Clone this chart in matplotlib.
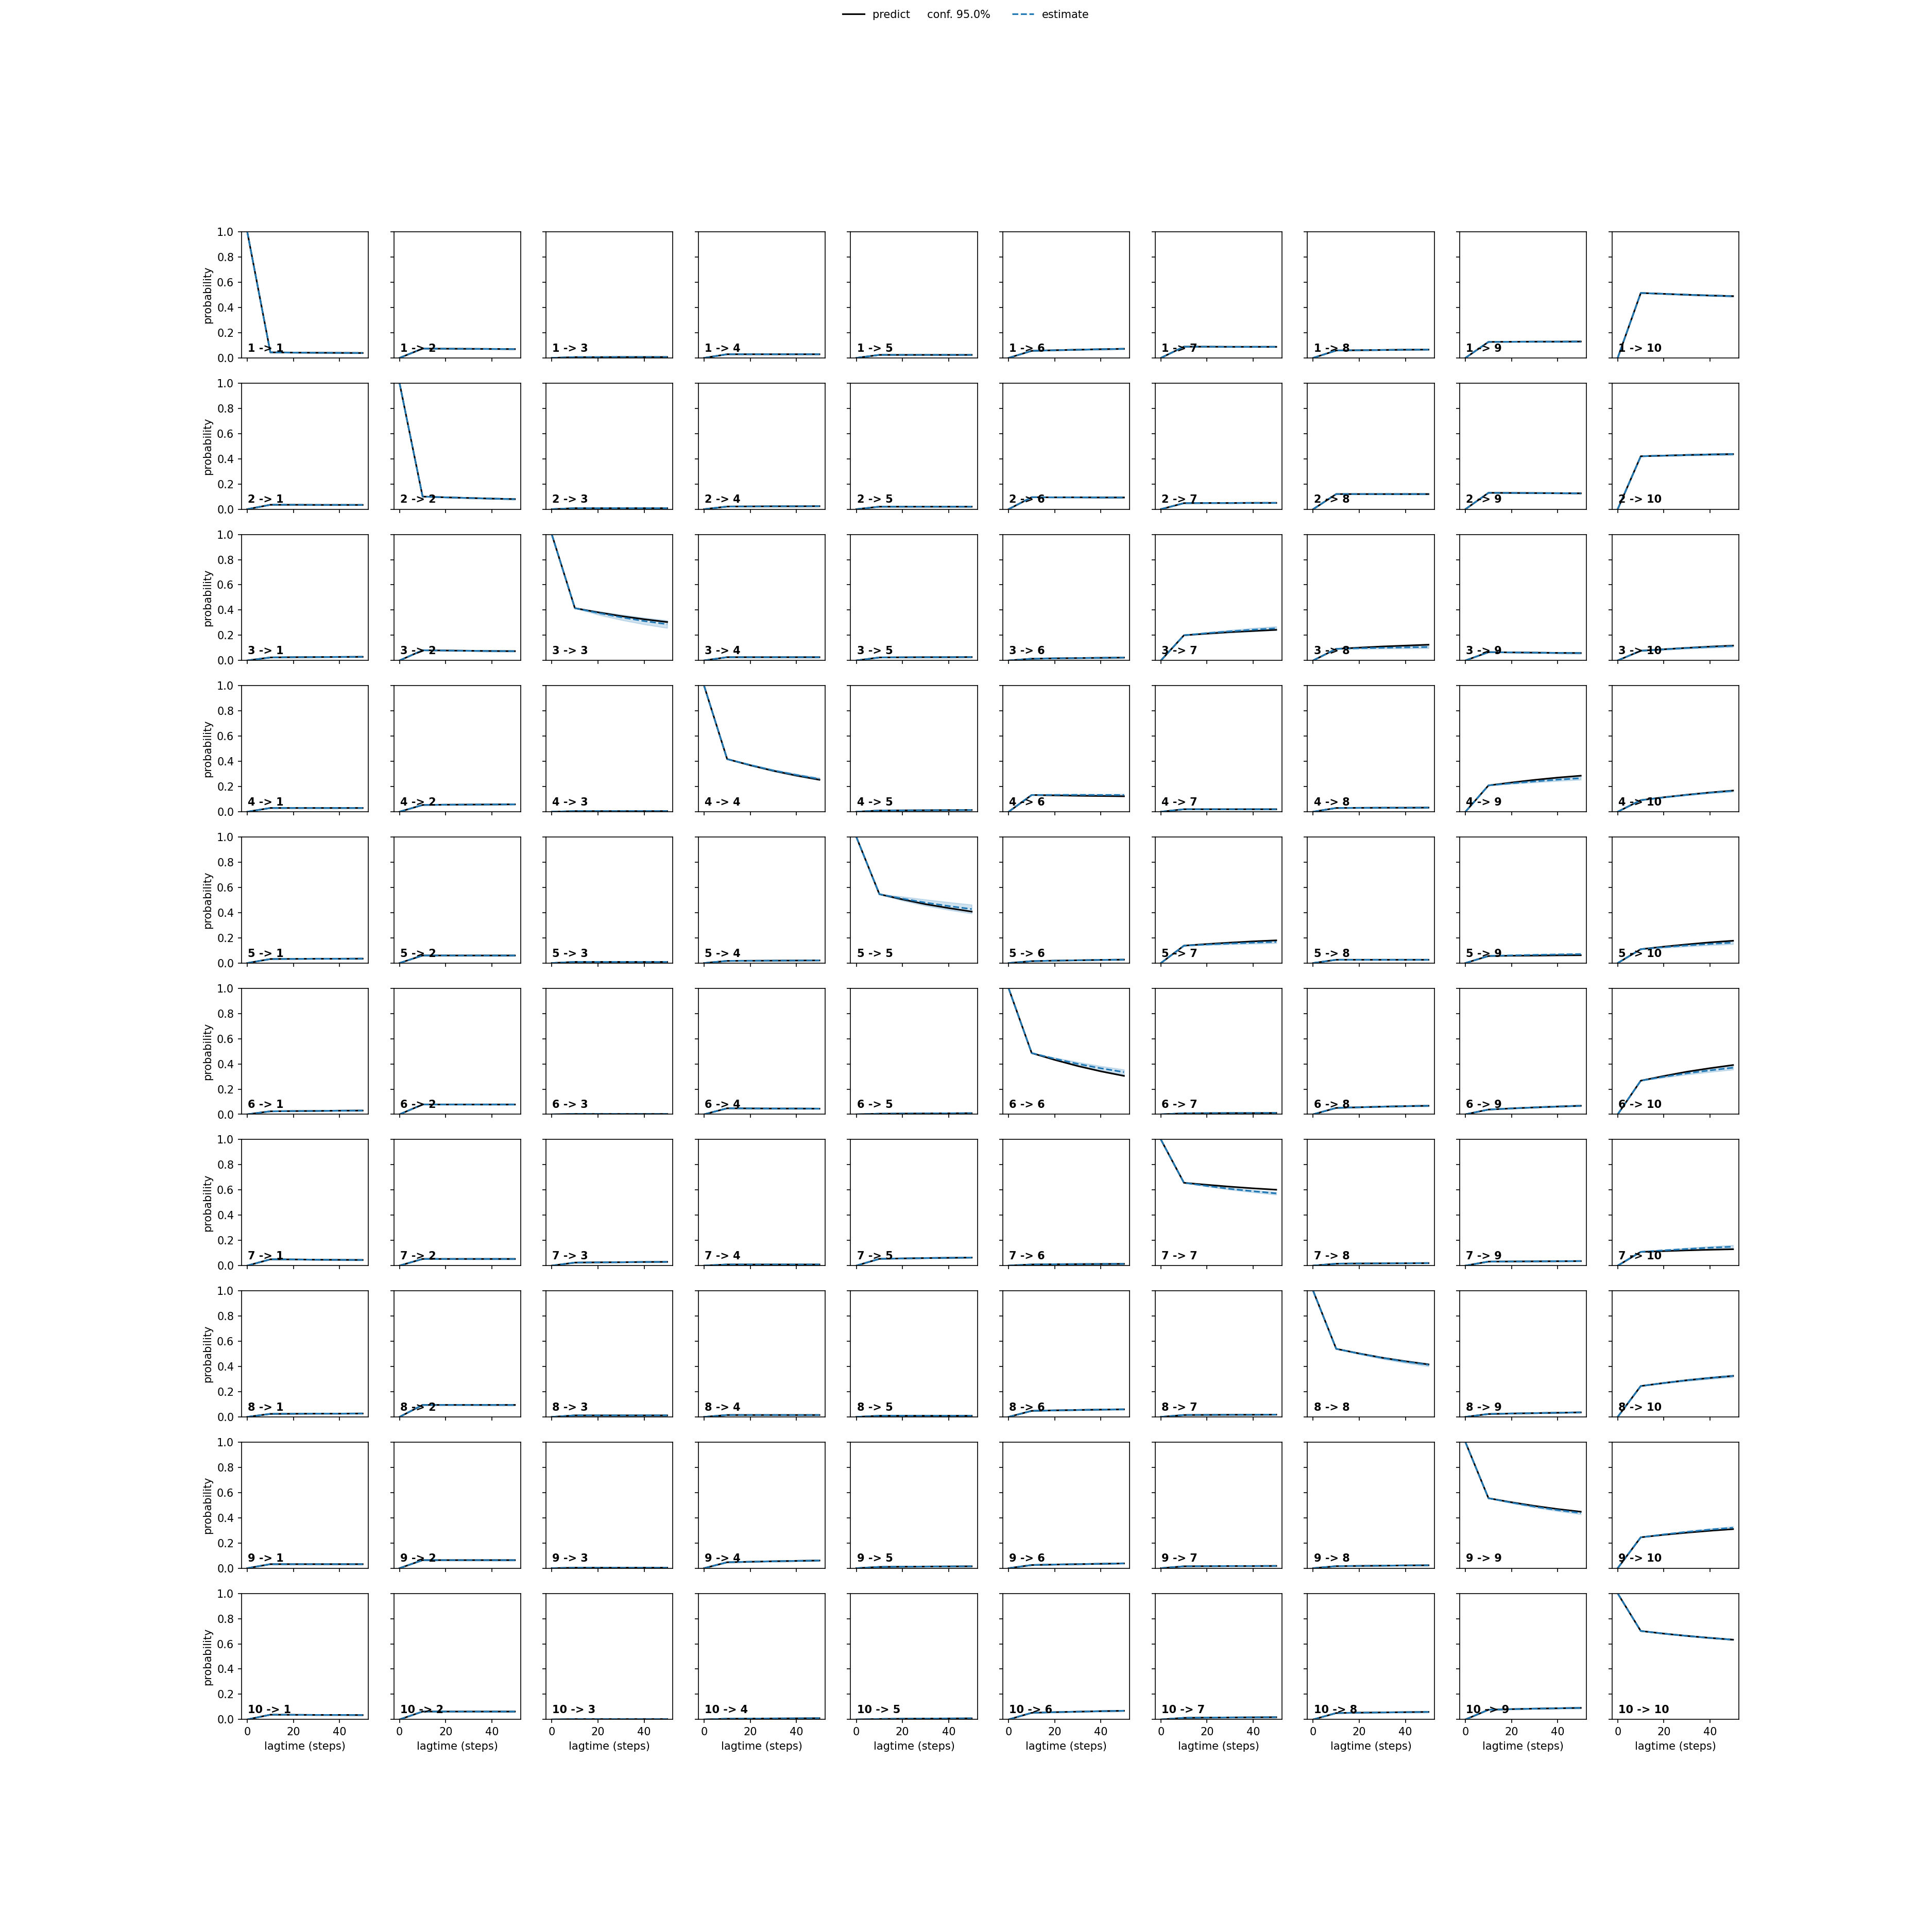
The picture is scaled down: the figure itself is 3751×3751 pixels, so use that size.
import matplotlib
matplotlib.use("Agg")
import matplotlib.pyplot as plt
import numpy as np

# lag times of the CK test (steps)
lagtimes = [0, 10, 20, 30, 40, 50]
n_states = 10

# transition probabilities, one 10x10 matrix per lag
# lag 0 is the identity, lag 10 is shared by prediction and estimate
lag0 = np.eye(n_states)

lag10 = [
    [0.044, 0.074, 0.006, 0.029, 0.024, 0.056, 0.089, 0.059, 0.127, 0.515],
    [0.035, 0.100, 0.008, 0.021, 0.020, 0.095, 0.048, 0.120, 0.130, 0.420],
    [0.024, 0.081, 0.415, 0.026, 0.024, 0.014, 0.200, 0.092, 0.066, 0.077],
    [0.030, 0.054, 0.005, 0.418, 0.010, 0.133, 0.020, 0.030, 0.209, 0.092],
    [0.032, 0.060, 0.009, 0.017, 0.546, 0.015, 0.138, 0.026, 0.056, 0.110],
    [0.024, 0.078, 0.003, 0.048, 0.005, 0.486, 0.008, 0.051, 0.038, 0.267],
    [0.050, 0.053, 0.024, 0.009, 0.054, 0.009, 0.657, 0.015, 0.032, 0.109],
    [0.024, 0.095, 0.012, 0.015, 0.009, 0.048, 0.015, 0.540, 0.023, 0.245],
    [0.032, 0.064, 0.004, 0.047, 0.010, 0.025, 0.015, 0.016, 0.555, 0.245],
    [0.038, 0.063, 0.003, 0.006, 0.004, 0.053, 0.013, 0.051, 0.077, 0.702],
]

predict20 = [
    [0.042, 0.073, 0.006, 0.029, 0.024, 0.061, 0.089, 0.061, 0.128, 0.508],
    [0.035, 0.094, 0.008, 0.022, 0.020, 0.094, 0.049, 0.120, 0.129, 0.425],
    [0.026, 0.079, 0.382, 0.026, 0.025, 0.017, 0.213, 0.102, 0.064, 0.089],
    [0.030, 0.056, 0.005, 0.369, 0.011, 0.130, 0.020, 0.031, 0.232, 0.115],
    [0.033, 0.060, 0.009, 0.018, 0.505, 0.019, 0.151, 0.026, 0.058, 0.130],
    [0.026, 0.078, 0.003, 0.047, 0.006, 0.432, 0.009, 0.056, 0.047, 0.304],
    [0.049, 0.053, 0.026, 0.009, 0.057, 0.011, 0.641, 0.017, 0.033, 0.115],
    [0.025, 0.095, 0.012, 0.015, 0.009, 0.052, 0.016, 0.503, 0.027, 0.269],
    [0.032, 0.064, 0.004, 0.051, 0.012, 0.029, 0.016, 0.018, 0.523, 0.265],
    [0.037, 0.063, 0.003, 0.007, 0.006, 0.058, 0.015, 0.054, 0.082, 0.681],
]

predict30 = [
    [0.041, 0.072, 0.007, 0.029, 0.024, 0.065, 0.088, 0.063, 0.129, 0.501],
    [0.034, 0.089, 0.008, 0.023, 0.020, 0.094, 0.049, 0.120, 0.128, 0.430],
    [0.027, 0.077, 0.352, 0.026, 0.026, 0.019, 0.225, 0.111, 0.062, 0.100],
    [0.030, 0.057, 0.005, 0.325, 0.012, 0.127, 0.020, 0.032, 0.253, 0.135],
    [0.034, 0.060, 0.009, 0.019, 0.467, 0.022, 0.162, 0.026, 0.059, 0.148],
    [0.027, 0.078, 0.003, 0.046, 0.007, 0.383, 0.010, 0.061, 0.055, 0.338],
    [0.047, 0.053, 0.027, 0.009, 0.060, 0.012, 0.626, 0.018, 0.034, 0.121],
    [0.026, 0.095, 0.012, 0.015, 0.009, 0.055, 0.017, 0.469, 0.030, 0.291],
    [0.032, 0.064, 0.004, 0.055, 0.013, 0.032, 0.017, 0.020, 0.494, 0.282],
    [0.036, 0.063, 0.003, 0.008, 0.007, 0.062, 0.016, 0.056, 0.086, 0.663],
]

predict40 = [
    [0.040, 0.071, 0.007, 0.029, 0.024, 0.069, 0.088, 0.065, 0.129, 0.495],
    [0.034, 0.084, 0.008, 0.023, 0.020, 0.093, 0.050, 0.120, 0.127, 0.434],
    [0.028, 0.075, 0.327, 0.026, 0.026, 0.021, 0.234, 0.118, 0.060, 0.110],
    [0.030, 0.058, 0.005, 0.287, 0.013, 0.125, 0.020, 0.032, 0.271, 0.153],
    [0.034, 0.060, 0.009, 0.020, 0.436, 0.025, 0.172, 0.026, 0.061, 0.164],
    [0.029, 0.078, 0.003, 0.046, 0.008, 0.341, 0.010, 0.065, 0.062, 0.366],
    [0.046, 0.053, 0.029, 0.009, 0.062, 0.013, 0.613, 0.019, 0.035, 0.126],
    [0.026, 0.095, 0.012, 0.015, 0.009, 0.058, 0.017, 0.441, 0.033, 0.309],
    [0.032, 0.064, 0.004, 0.058, 0.014, 0.035, 0.017, 0.022, 0.469, 0.297],
    [0.036, 0.063, 0.003, 0.009, 0.008, 0.066, 0.017, 0.058, 0.089, 0.647],
]

predict50 = [
    [0.039, 0.070, 0.007, 0.029, 0.024, 0.072, 0.088, 0.066, 0.130, 0.490],
    [0.034, 0.080, 0.008, 0.024, 0.020, 0.093, 0.050, 0.120, 0.126, 0.437],
    [0.029, 0.074, 0.305, 0.026, 0.027, 0.023, 0.243, 0.125, 0.059, 0.118],
    [0.030, 0.059, 0.005, 0.254, 0.014, 0.123, 0.020, 0.033, 0.286, 0.168],
    [0.035, 0.060, 0.009, 0.021, 0.408, 0.027, 0.180, 0.026, 0.062, 0.177],
    [0.030, 0.078, 0.003, 0.045, 0.009, 0.305, 0.011, 0.068, 0.068, 0.391],
    [0.045, 0.053, 0.030, 0.009, 0.064, 0.014, 0.602, 0.020, 0.036, 0.130],
    [0.027, 0.095, 0.012, 0.015, 0.009, 0.060, 0.018, 0.416, 0.036, 0.325],
    [0.032, 0.064, 0.004, 0.061, 0.015, 0.038, 0.018, 0.023, 0.448, 0.310],
    [0.035, 0.063, 0.003, 0.010, 0.009, 0.069, 0.018, 0.060, 0.092, 0.633],
]

estimate20 = [
    [0.042, 0.073, 0.006, 0.029, 0.024, 0.061, 0.089, 0.061, 0.128, 0.508],
    [0.035, 0.094, 0.008, 0.022, 0.020, 0.094, 0.049, 0.120, 0.129, 0.425],
    [0.026, 0.079, 0.377, 0.026, 0.025, 0.017, 0.217, 0.097, 0.064, 0.088],
    [0.030, 0.056, 0.005, 0.371, 0.011, 0.134, 0.020, 0.031, 0.226, 0.114],
    [0.033, 0.060, 0.009, 0.018, 0.511, 0.019, 0.147, 0.026, 0.061, 0.126],
    [0.026, 0.078, 0.003, 0.047, 0.006, 0.441, 0.009, 0.056, 0.047, 0.298],
    [0.049, 0.053, 0.026, 0.009, 0.057, 0.011, 0.632, 0.017, 0.033, 0.121],
    [0.025, 0.095, 0.012, 0.015, 0.009, 0.052, 0.016, 0.502, 0.027, 0.269],
    [0.032, 0.064, 0.004, 0.051, 0.012, 0.029, 0.016, 0.018, 0.520, 0.268],
    [0.037, 0.063, 0.003, 0.007, 0.006, 0.058, 0.015, 0.054, 0.082, 0.681],
]

estimate30 = [
    [0.041, 0.072, 0.007, 0.029, 0.024, 0.065, 0.088, 0.063, 0.129, 0.501],
    [0.034, 0.089, 0.008, 0.023, 0.020, 0.094, 0.049, 0.120, 0.128, 0.430],
    [0.027, 0.077, 0.343, 0.026, 0.026, 0.019, 0.231, 0.101, 0.062, 0.099],
    [0.030, 0.057, 0.005, 0.328, 0.012, 0.134, 0.020, 0.032, 0.241, 0.134],
    [0.034, 0.060, 0.009, 0.019, 0.479, 0.022, 0.155, 0.026, 0.065, 0.140],
    [0.027, 0.078, 0.003, 0.046, 0.007, 0.400, 0.010, 0.061, 0.055, 0.326],
    [0.047, 0.053, 0.027, 0.009, 0.060, 0.012, 0.609, 0.018, 0.034, 0.132],
    [0.026, 0.095, 0.012, 0.015, 0.009, 0.055, 0.017, 0.468, 0.030, 0.291],
    [0.032, 0.064, 0.004, 0.055, 0.013, 0.032, 0.017, 0.020, 0.488, 0.288],
    [0.036, 0.063, 0.003, 0.008, 0.007, 0.062, 0.016, 0.056, 0.086, 0.663],
]

estimate40 = [
    [0.040, 0.071, 0.007, 0.029, 0.024, 0.069, 0.088, 0.065, 0.129, 0.495],
    [0.034, 0.084, 0.008, 0.023, 0.020, 0.093, 0.050, 0.120, 0.127, 0.434],
    [0.028, 0.075, 0.313, 0.026, 0.026, 0.021, 0.244, 0.104, 0.060, 0.107],
    [0.030, 0.058, 0.005, 0.292, 0.013, 0.133, 0.020, 0.032, 0.255, 0.151],
    [0.034, 0.060, 0.009, 0.020, 0.452, 0.025, 0.162, 0.026, 0.068, 0.152],
    [0.029, 0.078, 0.003, 0.046, 0.008, 0.365, 0.010, 0.065, 0.062, 0.349],
    [0.046, 0.053, 0.029, 0.009, 0.062, 0.013, 0.590, 0.019, 0.035, 0.142],
    [0.026, 0.095, 0.012, 0.015, 0.009, 0.058, 0.017, 0.438, 0.033, 0.309],
    [0.032, 0.064, 0.004, 0.058, 0.014, 0.035, 0.017, 0.022, 0.461, 0.306],
    [0.036, 0.063, 0.003, 0.009, 0.008, 0.066, 0.017, 0.058, 0.089, 0.647],
]

estimate50 = [
    [0.039, 0.070, 0.007, 0.029, 0.024, 0.072, 0.088, 0.066, 0.130, 0.490],
    [0.034, 0.080, 0.008, 0.024, 0.020, 0.093, 0.050, 0.120, 0.126, 0.437],
    [0.029, 0.074, 0.288, 0.026, 0.027, 0.023, 0.255, 0.107, 0.059, 0.115],
    [0.030, 0.059, 0.005, 0.260, 0.014, 0.133, 0.020, 0.033, 0.266, 0.165],
    [0.035, 0.060, 0.009, 0.021, 0.428, 0.027, 0.168, 0.026, 0.071, 0.162],
    [0.030, 0.078, 0.003, 0.045, 0.009, 0.335, 0.011, 0.068, 0.068, 0.370],
    [0.045, 0.053, 0.030, 0.009, 0.064, 0.014, 0.573, 0.020, 0.036, 0.150],
    [0.027, 0.095, 0.012, 0.015, 0.009, 0.060, 0.018, 0.413, 0.036, 0.325],
    [0.032, 0.064, 0.004, 0.061, 0.015, 0.038, 0.018, 0.023, 0.438, 0.321],
    [0.035, 0.063, 0.003, 0.010, 0.009, 0.069, 0.018, 0.060, 0.092, 0.633],
]

# half width of the 95% band around the estimate at lag 50
conf_halfwidth50 = [
    [0.003, 0.004, 0.002, 0.003, 0.003, 0.005, 0.004, 0.004, 0.005, 0.006],
    [0.003, 0.005, 0.002, 0.003, 0.003, 0.005, 0.004, 0.005, 0.005, 0.008],
    [0.004, 0.005, 0.030, 0.004, 0.004, 0.004, 0.015, 0.010, 0.005, 0.008],
    [0.003, 0.004, 0.002, 0.010, 0.003, 0.008, 0.003, 0.004, 0.012, 0.006],
    [0.004, 0.004, 0.002, 0.004, 0.035, 0.004, 0.010, 0.004, 0.006, 0.012],
    [0.004, 0.005, 0.002, 0.005, 0.003, 0.020, 0.003, 0.005, 0.005, 0.015],
    [0.004, 0.005, 0.004, 0.003, 0.005, 0.003, 0.010, 0.004, 0.004, 0.012],
    [0.003, 0.005, 0.003, 0.003, 0.003, 0.005, 0.003, 0.012, 0.004, 0.010],
    [0.003, 0.004, 0.002, 0.005, 0.003, 0.004, 0.003, 0.003, 0.010, 0.010],
    [0.003, 0.005, 0.002, 0.003, 0.003, 0.005, 0.003, 0.004, 0.005, 0.005],
]
# how much of that band is open at each lag
conf_growth = [0.0, 0.0, 0.45, 0.7, 0.87, 1.0]

predict = np.array([lag0, lag10, predict20, predict30, predict40, predict50])
estimate = np.array([lag0, lag10, estimate20, estimate30, estimate40, estimate50])
band = np.array(conf_growth)[:, None, None] * np.array(conf_halfwidth50)[None]

fig, axes = plt.subplots(n_states, n_states, sharex=True, sharey=True,
                         figsize=(3751 / 150 + 0.0001, 3751 / 150 + 0.0001))

for i in range(n_states):
  for j in range(n_states):
    ax = axes[i, j]
    lpred = ax.plot(lagtimes, predict[:, i, j], color="black")
    lest = ax.plot(lagtimes, estimate[:, i, j], color="C0", linestyle="dashed")
    ax.fill_between(lagtimes, estimate[:, i, j] - band[:, i, j],
                    estimate[:, i, j] + band[:, i, j], color="C0", alpha=0.2)
    ax.text(0.05, 0.05, str(i + 1) + " -> " + str(j + 1),
            transform=ax.transAxes, weight="bold")
    ax.set_ylim(0, 1)
    if j == 0:
      ax.set_ylabel("probability")
    if i == n_states - 1:
      ax.set_xlabel("lagtime (steps)")

# legend at the top of the figure
fig.legend((lpred[0], lest[0]), ("predict     conf. 95.0%", "estimate"),
           loc="upper center", ncol=2, frameon=False)

fig.savefig("out.png", dpi=150)
